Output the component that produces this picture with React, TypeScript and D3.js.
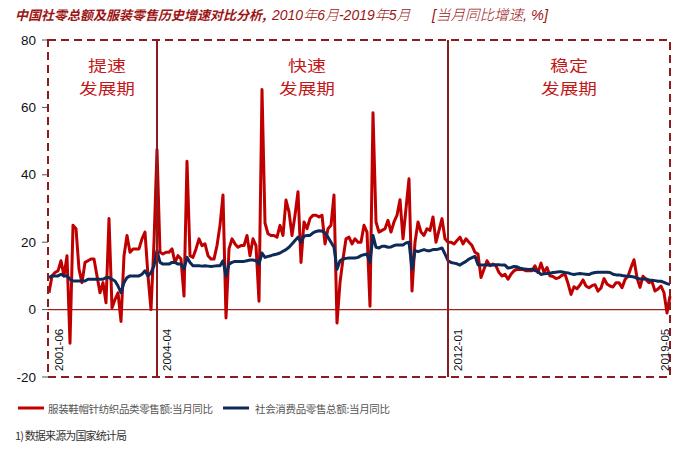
import React from "react";
import * as d3 from "d3";

// 服装鞋帽针纺织品类零售额:当月同比 (%)
const apparelYoY: number[] = [
  5, 10, 11, 11.5, 14.5, 10, 16, -10, 25, 24,
  12, 8, 14, 14.5, 15, 15, 10, 5, 8, 2,
  27, 0.5, 3, 5, -3.5, 16, 22, 17, 18, 18,
  18, 21, 23, 10, 0, 20, 47.5, 17, 16.5, 17,
  17, 18, 14, 16, 15, 4, 44, 16, 15.5, 18,
  21, 19, 19.5, 16, 15, 15, 19, 25, 34, -2.5,
  18, 21, 19.5, 18.5, 19, 19, 22, 16, 21, 19,
  2.5, 65.3, 25.7, 22.5, 22, 22, 21.5, 25, 22, 32.5,
  29, 22, 28, 35, 14, 26, 24, 27, 28, 28,
  27.5, 28, 19.5, 24, 25, 34, -4, 8, 15, 21,
  21.5, 19.5, 21, 20, 20, 25, 23, 1, 58.4, 26,
  23, 23.5, 24, 26.5, 23, 26, 28, 32.6, 21, 30,
  38.8, 5.5, 20, 26, 23, 22, 24, 23.5, 27.5, 20,
  23.5, 27, 21, 20, 20, 19.5, 20.5, 21.5, 19.5, 21,
  20, 19, 17, 16.5, 9.5, 12, 14.5, 13, 13.5, 13,
  11, 10, 10.5, 9, 10.5, 11.5, 12, 11.9, 11.9, 11.5,
  11.5, 11.5, 13, 11, 13.8, 11, 12.5, 10, 9.8, 9.2,
  9.5, 10.2, 10.5, 7.8, 4.5, 6.8, 6.2, 7.3, 8.8, 7,
  6.5, 7.1, 7.4, 5.5, 6.4, 9.2, 7.6, 7, 6.7, 8,
  8, 6.5, 8.9, 9.9, 12.5, 14.8, 9.5, 6.6, 9.9, 8.9,
  8, 8.3, 5.5, 6.1, 7, 5, -1, 4,
];

// 社会消费品零售总额:当月同比 (%)
const retailYoY: number[] = [
  9.5, 10, 10, 10, 10.5, 10, 10, 9, 8.5, 8.5,
  8.5, 8.5, 8.5, 9, 9, 9, 9, 9, 9, 9.5,
  9.5, 9, 8.5, 7, 5, 8, 9.5, 10, 10, 10,
  10, 10.5, 11.5, 10, 11, 13, 17.5, 14, 13.5, 13.5,
  13.5, 14, 14, 13.5, 13.5, 12, 15.5, 14, 13, 13,
  13, 12.9, 13, 12.9, 12.8, 12.9, 13, 13, 14.5, 10,
  13.5, 14, 14.3, 14.3, 14.3, 14.3, 14.5, 14.7, 14.7, 14.5,
  13.5, 16.8, 15.5, 15.8, 16, 16.3, 16.5, 16.8, 17.3, 17.8,
  18.5, 19.5, 20.5, 21.5, 20, 21.8, 22, 22, 22.8, 23.2,
  23.4, 23.3, 22.8, 21.5, 20, 18.5, 12, 14.5, 15, 15.2,
  15.3, 15.3, 15.3, 15.5, 16, 16.3, 16.5, 14, 22, 18.5,
  18.3, 18.8, 18.8, 18.5, 18.6, 19, 19.2, 19.2, 19.2, 19.8,
  20, 12, 17.5, 17.2, 17.5, 17.8, 17.5, 17.5, 17.8, 17.8,
  18, 18.3, 16.5, 14.5, 14, 13.8, 13.6, 13.2, 13.8, 14.3,
  15, 15.4, 15.8, 13.3, 13.2, 13.2, 13.3, 13.2, 13.2, 13.3,
  13.3, 13.2, 13.2, 12.3, 12.5, 12.8, 12.7, 12.3, 12.1, 12,
  11.9, 12, 11.6, 11.3, 10.4, 10.6, 10.7, 10.8, 11, 11.1,
  11.2, 11.2, 11, 10.9, 10.6, 10.4, 10.6, 10.7, 10.6, 10.5,
  10.4, 10.8, 11, 11.1, 11.1, 11.1, 11.1, 11, 10.5, 10.3,
  10.3, 10.1, 10, 9.9, 9.8, 9.7, 9.3, 9.1, 9.1, 9.1,
  8.8, 8.7, 8.6, 8.4, 8.4, 8.1, 7.7, 7.4,
];

const dateLabels: string[] = ["2001-06", "2004-04", "2012-01", "2019-05"];
const dateIndex: number[] = [0, 36, 133, 207];
const dividerIndex: number[] = [36, 133];
const yTicks: number[] = [-20, 0, 20, 40, 60, 80];
const phaseNames: string[][] = [["提速", "发展期"], ["快速", "发展期"], ["稳定", "发展期"]];
const seriesNames: string[] = ["服装鞋帽针纺织品类零售额:当月同比", "社会消费品零售总额:当月同比"];

const W = 686;
const H = 463;
const box = { left: 48, right: 670, top: 40, bottom: 377 };
const RED = "#C00000";
const NAVY = "#0E2A58";
const FRAME = "#8E1B1B";
const CJK = "'Noto Sans CJK SC', sans-serif";
const LAT = "'Liberation Sans', Arial, 'Noto Sans CJK SC', sans-serif";

export default function App() {
  const n = apparelYoY.length;
  const x = d3.scaleLinear().domain([0, n - 1]).range([49, 670]);
  const y = d3.scaleLinear().domain([-20, 80]).range([box.bottom, box.top]);
  const line = d3
    .line<number>()
    .x((_, i) => x(i))
    .y((d) => y(d));

  const phaseCenters = [107, 307, 569];

  return (
    <div style={{ margin: -8 }}>
      <svg width={W} height={H} style={{ display: "block", background: "#fff" }}>
        {/* title */}
        <text y={20} fontStyle="italic" fill="#9C1515" fontSize={14} fontFamily={LAT}>
          <tspan x={15} fontFamily={CJK} fontWeight={700} fontSize={13}>
            中国社零总额及服装零售历史增速对比分析,
          </tspan>
          <tspan x={272}>2010</tspan>
          <tspan fontFamily={CJK} fontWeight={300}>年</tspan>
          <tspan>6</tspan>
          <tspan fontFamily={CJK} fontWeight={300}>月</tspan>
          <tspan>-2019</tspan>
          <tspan fontFamily={CJK} fontWeight={300}>年</tspan>
          <tspan>5</tspan>
          <tspan fontFamily={CJK} fontWeight={300}>月</tspan>
          <tspan x={432} fontSize={14.5}>[</tspan>
          <tspan fontFamily={CJK} fontWeight={300} fontSize={14.5}>当月同比增速</tspan>
          <tspan fontSize={14.5}>, %]</tspan>
        </text>

        {/* y axis labels and ticks */}
        {yTicks.map((t) => (
          <g key={t}>
            <line x1={42} x2={box.left} y1={y(t)} y2={y(t)} stroke="#555" strokeWidth={1} />
            <text x={36} y={y(t) + 4.5} textAnchor="end" fontFamily={LAT} fontSize={13.5} fill="#111">
              {t}
            </text>
          </g>
        ))}

        {/* zero line */}
        <line x1={box.left} x2={box.right} y1={y(0)} y2={y(0)} stroke="#A32020" strokeWidth={1.2} />

        {/* series */}
        <path d={line(apparelYoY) || ""} fill="none" stroke={RED} strokeWidth={3} strokeLinejoin="round" />
        <path d={line(retailYoY) || ""} fill="none" stroke={NAVY} strokeWidth={3} strokeLinejoin="round" />

        {/* phase dividers */}
        {dividerIndex.map((d) => (
          <line key={d} x1={x(d)} x2={x(d)} y1={box.top} y2={box.bottom} stroke={FRAME} strokeWidth={2} />
        ))}

        {/* dashed frame */}
        <rect
          x={box.left}
          y={box.top}
          width={box.right - box.left}
          height={box.bottom - box.top}
          fill="none"
          stroke={FRAME}
          strokeWidth={2}
          strokeDasharray="8,5"
        />

        {/* date labels */}
        {dateLabels.map((lbl, k) => {
          const last = k === dateLabels.length - 1;
          const cx = last ? x(dateIndex[k]) - 5 : x(dateIndex[k]) + 10;
          return (
            <text
              key={lbl}
              transform={`translate(${cx + 4},${371}) rotate(-90)`}
              fontFamily={LAT}
              fontSize={11.5}
              fill="#111"
            >
              {lbl}
            </text>
          );
        })}

        {/* phase names */}
        {phaseNames.map((lines, k) => (
          <g key={k} fontFamily={CJK} fontSize={15} fill="#C41818">
            <text x={phaseCenters[k] - 19} y={71} textLength={38} lengthAdjust="spacingAndGlyphs">
              {lines[0]}
            </text>
            <text x={phaseCenters[k] - 28} y={94} textLength={56} lengthAdjust="spacingAndGlyphs">
              {lines[1]}
            </text>
          </g>
        ))}

        {/* legend */}
        <line x1={18} x2={44} y1={408} y2={408} stroke={RED} strokeWidth={3} />
        <text x={48} y={413} fontFamily={CJK} fontSize={10.5} fill="#555" textLength={165} lengthAdjust="spacing">
          {seriesNames[0]}
        </text>
        <line x1={223} x2={249} y1={408} y2={408} stroke={NAVY} strokeWidth={3} />
        <text x={255} y={413} fontFamily={CJK} fontSize={10.5} fill="#555" textLength={135} lengthAdjust="spacing">
          {seriesNames[1]}
        </text>

        {/* source note */}
        <text x={15} y={440} fontFamily={CJK} fontSize={11} fill="#333" textLength={112} lengthAdjust="spacing">
          1) 数据来源为国家统计局
        </text>
      </svg>
    </div>
  );
}
